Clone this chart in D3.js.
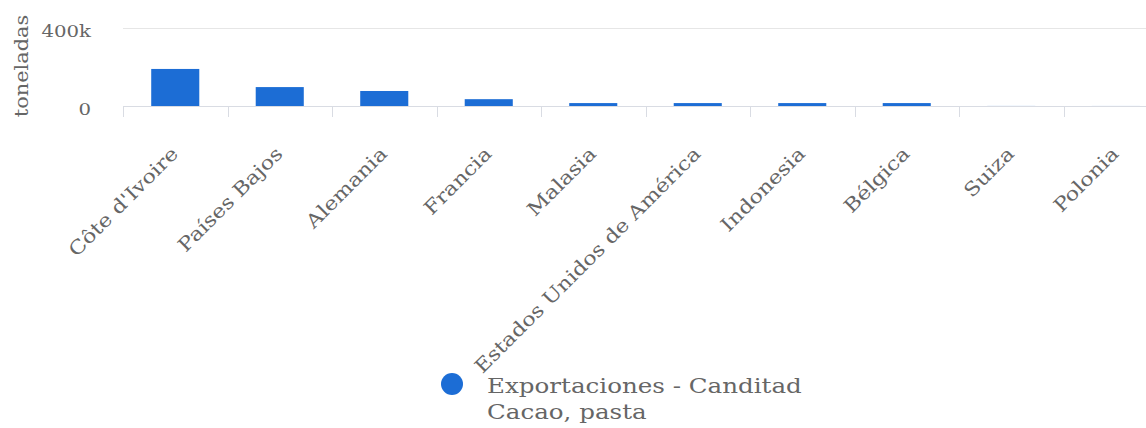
<!DOCTYPE html>
<html><head><meta charset="utf-8">
<script src="https://cdn.jsdelivr.net/npm/d3@7"></script>
<style>
html,body{margin:0;padding:0;background:#fff;}
svg{display:block;font-family:"DejaVu Serif",serif;}
</style></head>
<body><svg id="c" width="1146" height="428"></svg>
<script>
const categories = ["Côte d'Ivoire","Países Bajos","Alemania","Francia","Malasia","Estados Unidos de América","Indonesia","Bélgica","Suiza","Polonia"];
const values = [190000, 97000, 77000, 35000, 15000, 15000, 15000, 15000, 300, 200];
const yTicks = [0, 400000];
const seriesName = "Exportaciones - Canditad";
const seriesSub = "Cacao, pasta";
const yTitle = "toneladas";

const svg = d3.select("#c");
const pL = 123, pR = 1168, pT = 28, pB = 106;
const SX = 1.17; // horizontal widening of glyphs to mimic wider serif font
const x = d3.scaleBand().domain(categories).range([pL, pR]).paddingInner(0.54).paddingOuter(0.27);
const xTick = d3.scaleBand().domain(categories).range([pL, pR]);
const y = d3.scaleLinear().domain([0, 400000]).range([pB, pT]);

// gridlines
svg.append("g").selectAll("line").data(yTicks.filter(d=>d>0)).join("line")
  .attr("x1", pL).attr("x2", 1146).attr("y1", d=>y(d)+0.5).attr("y2", d=>y(d)+0.5)
  .attr("stroke", "#e6e6e6").attr("stroke-width", 1);

// bars
svg.append("g").selectAll("rect").data(categories).join("rect")
  .attr("x", d=>x(d)).attr("width", x.bandwidth())
  .attr("y", (d,i)=>y(values[i])).attr("height", (d,i)=>pB - y(values[i]))
  .attr("fill", "#1c6dd5");

// x axis line
svg.append("line").attr("x1", pL).attr("x2", 1146).attr("y1", pB+0.5).attr("y2", pB+0.5)
  .attr("stroke", "#d9dce3");
// ticks
svg.append("g").selectAll("line").data(categories).join("line")
  .attr("x1", d=>Math.round(xTick(d))+0.5).attr("x2", d=>Math.round(xTick(d))+0.5)
  .attr("y1", pB).attr("y2", pB+11)
  .attr("stroke", "#d9dce3");

// x labels
svg.append("g").selectAll("text").data(categories).join("text")
  .attr("transform", d=>`translate(${xTick(d)+xTick.bandwidth()/2+4},${pB+49}) rotate(-45) scale(${SX},1)`)
  .attr("text-anchor", "end")
  .attr("font-size", 19).attr("fill", "#666")
  .text(d=>d);

// y labels
const yFmt = d => d===0 ? "0" : (d/1000)+"k";
svg.append("g").selectAll("text").data(yTicks).join("text")
  .attr("transform", d=>`translate(91,${y(d)+9}) scale(1.16,1)`)
  .attr("text-anchor", "end").attr("font-size", 17).attr("fill", "#666")
  .text(yFmt);

// y title
svg.append("text").attr("transform", `translate(28,66) rotate(-90) scale(1.16,1)`)
  .attr("text-anchor", "middle").attr("font-size", 18).attr("fill", "#666")
  .text(yTitle);

// legend
svg.append("circle").attr("cx", 452).attr("cy", 384).attr("r", 11).attr("fill", "#1c6dd5");
svg.append("text").attr("transform", `translate(487,393) scale(1.17,1)`).attr("font-size", 21).attr("fill", "#666").text(seriesName);
svg.append("text").attr("transform", `translate(487,419) scale(1.17,1)`).attr("font-size", 21).attr("fill", "#666").text(seriesSub);
</script></body></html>
